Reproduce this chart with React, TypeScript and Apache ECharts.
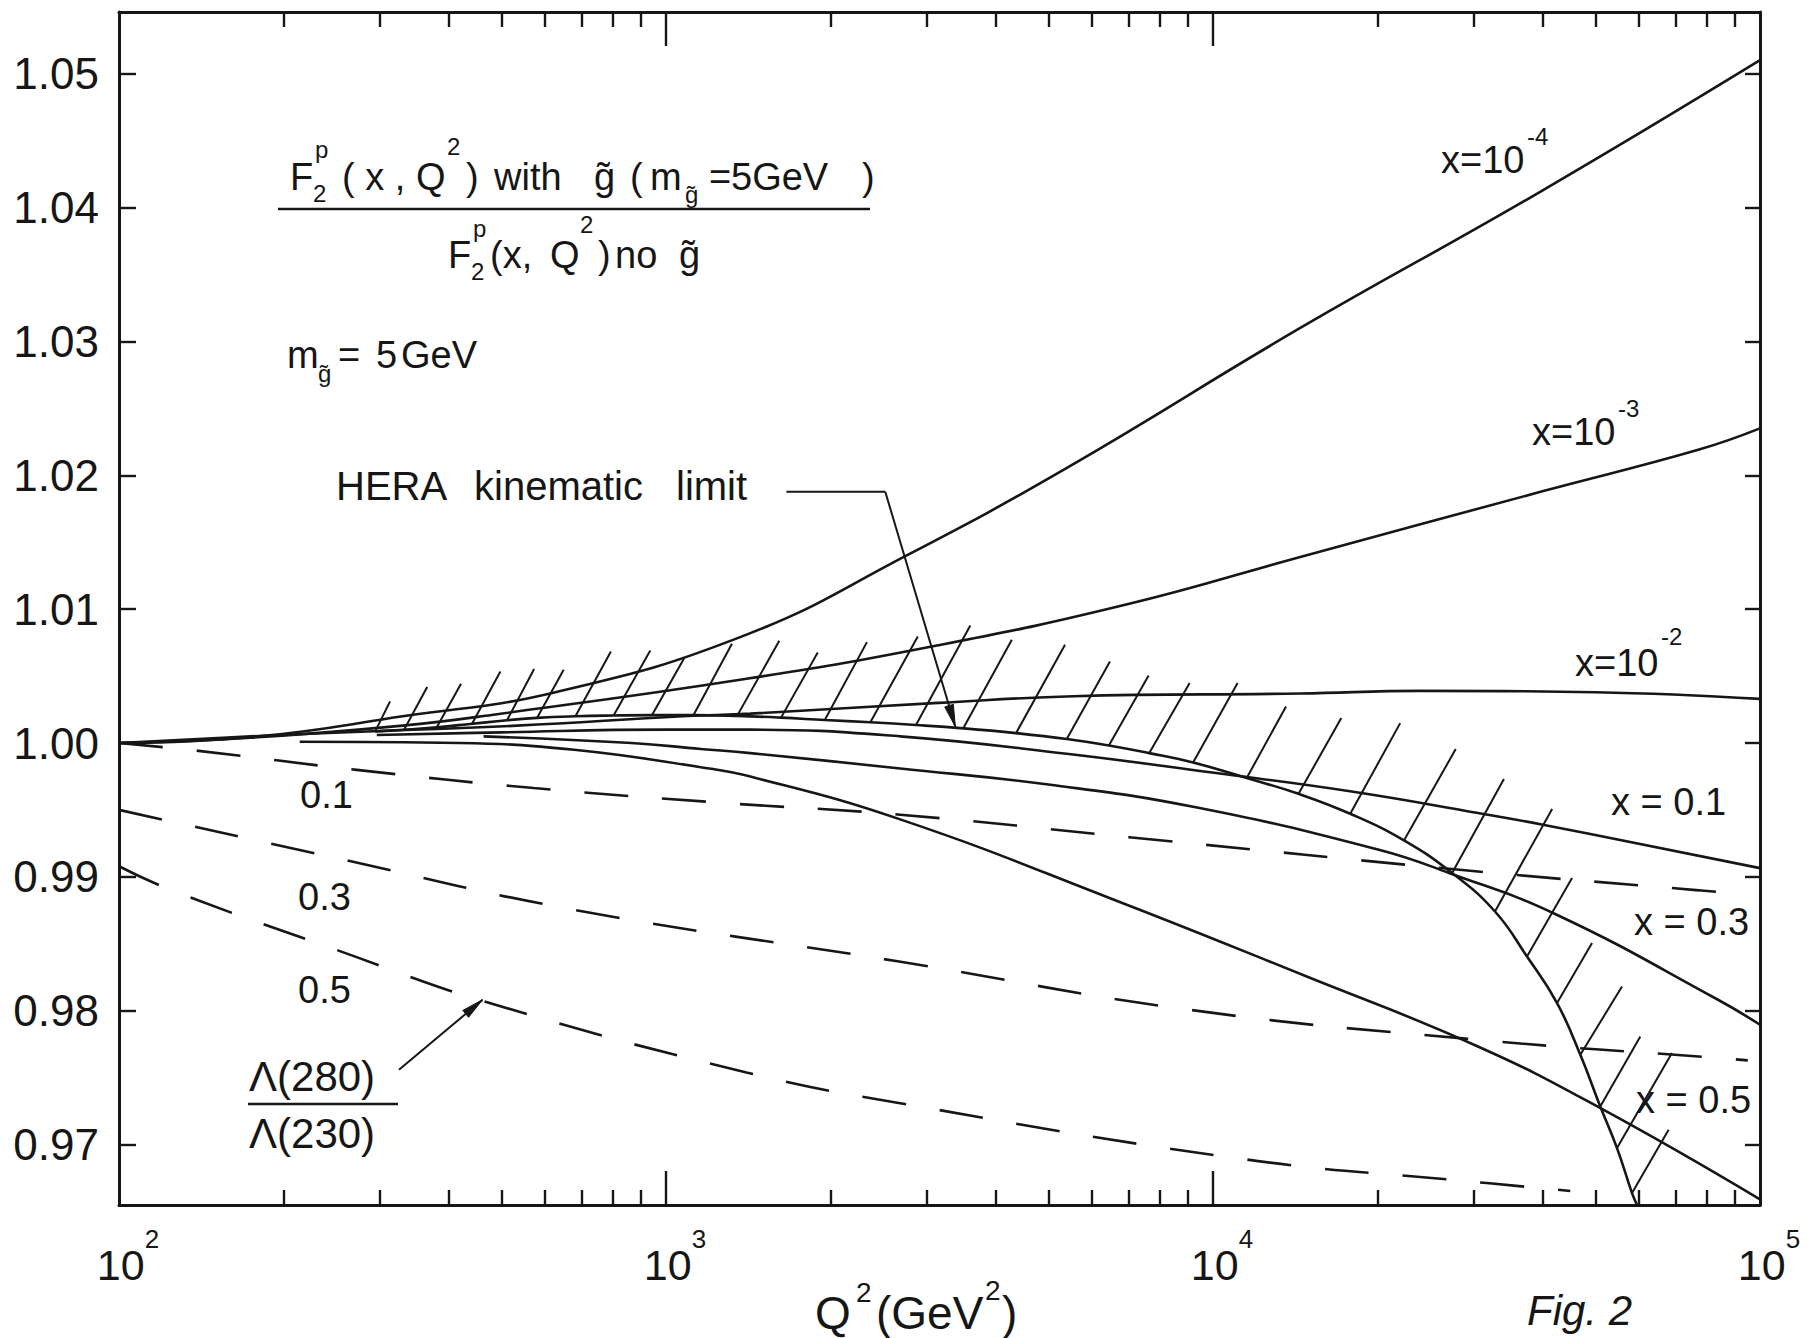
import React, { useEffect, useRef } from 'react';
import * as echarts from 'echarts';

// ---------------- data ----------------
// Q^2 in GeV^2 (log axis), ratio on the value axis
const q2Xm4 = [100, 180, 330, 628, 1404, 2749, 5377, 14440, 39000, 100000];
const fXm4 = [1.0, 1.0005, 1.002, 1.0038, 1.0081, 1.0140, 1.0205, 1.0310, 1.041, 1.051];

const q2Xm3 = [100, 174, 330, 480, 1404, 3145, 7030, 14440, 40000, 77100, 100000];
const fXm3 = [1.0, 1.0004, 1.0013, 1.0021, 1.0048, 1.0073, 1.0104, 1.0139, 1.0188, 1.0219, 1.0235];

const q2Xm2 = [100, 174, 300, 534, 1074, 1426, 3145, 5560, 14440, 24000, 50000, 100000];
const fXm2 = [1.0, 1.0005, 1.0009, 1.0013, 1.002, 1.0022, 1.003, 1.0035, 1.0037, 1.0039, 1.0038, 1.0033];

const q2X01 = [296, 500, 1000, 1426, 2680, 5400, 9960, 17800, 30500, 40100, 100000];
const fX01 = [1.0006, 1.0008, 1.001, 1.001, 1.0005, 0.9992, 0.9978, 0.9964, 0.99478, 0.9939, 0.99066];

const q2X03 = [464, 865, 1157, 1426, 2680, 5000, 9300, 20100, 27000, 42500, 83800, 100000];
const fX03 = [1.0005, 1.0, 0.99956, 0.99925, 0.9981, 0.9969, 0.9952, 0.99203, 0.9903, 0.98718, 0.98083, 0.97896];

const q2X05 = [214, 419, 679, 1157, 1426, 2680, 6590, 14760, 30500, 51000, 100000];
const fX05 = [1.0001, 1.0, 0.9995, 0.9982, 0.9975, 0.9943, 0.9883, 0.9826, 0.97734, 0.97275, 0.96592];

// Lambda(280)/Lambda(230) ratios (dashed)
const q2L01 = [100, 141, 272, 573, 1273, 2680, 7100, 30500, 76400, 85000];
const fL01 = [1.0, 0.9994, 0.998, 0.99664, 0.99553, 0.99465, 0.99295, 0.99041, 0.98902, 0.98886];

const q2L03 = [100, 258, 679, 2650, 9060, 30500, 84700, 95000];
const fL03 = [0.99501, 0.99128, 0.98755, 0.9837, 0.98008, 0.97784, 0.97647, 0.9763];

const q2L05 = [100, 125, 252, 466, 1403, 2680, 11500, 28800, 45000];
const fL05 = [0.9908, 0.989, 0.9845, 0.9807, 0.9754, 0.9731, 0.9689, 0.9673, 0.96655];

// HERA kinematic limit
const limitQ2 = [294, 332, 381, 442, 512, 581, 683, 802, 943, 1123, 1349, 1623, 1951, 2364, 2864, 3495, 4364, 5403, 6451, 7647, 9196, 11524, 14334, 17820, 22340, 27360, 32770, 37500, 42560, 46940, 51050, 54780, 58350, 59600];
const limitV = [1.00087, 1.001, 1.00118, 1.00144, 1.0017, 1.00188, 1.002, 1.00206, 1.00209, 1.00209, 1.00203, 1.0019, 1.00172, 1.00155, 1.00135, 1.0011, 1.00074, 1.0003, 0.99982, 0.99925, 0.99855, 0.99739, 0.99621, 0.99472, 0.99273, 0.99029, 0.98742, 0.98406, 0.98058, 0.97672, 0.97286, 0.96975, 0.96639, 0.9655];

// hatch strokes: each starts on the limit line (same index) and ends here
const hatchTopQ2 = [313, 366, 422, 498, 574, 650, 793, 936, 1080, 1320, 1611, 1894, 2330, 2886, 3600, 4288, 5364, 6480, 7626, 9063, 11090, 13600, 17160, 21990, 27780, 34030, 41690, 45330, 49310, 55940, 60420, 69030, 68070];
const hatchTopV = [1.00311, 1.00418, 1.00443, 1.00535, 1.00553, 1.00547, 1.00684, 1.00692, 1.00635, 1.00742, 1.00764, 1.00677, 1.00754, 1.00796, 1.00878, 1.00771, 1.00734, 1.00609, 1.00505, 1.00448, 1.00448, 1.00273, 1.00187, 1.00149, 0.99955, 0.99731, 0.99507, 0.98992, 0.98506, 0.98182, 0.97809, 0.97685, 0.97112];

// annotation arrows (data coordinates; the last point is the tip)
const heraArrowQ2 = [1660, 2517, 3380];
const heraArrowV = [1.01877, 1.01877, 1.00122];
const lambdaArrowQ2 = [325, 462];
const lambdaArrowV = [0.9756, 0.98083];

// axes
const xMin = 100;
const xMax = 100000;
const yMin = 0.9655;
const yMax = 1.0546;
const xMajorTicks = [1000, 10000];
const xMinorTicks = [200, 300, 400, 500, 600, 700, 800, 900, 2000, 3000, 4000, 5000, 6000, 7000, 8000, 9000, 20000, 30000, 40000, 50000, 60000, 70000, 80000, 90000];
const xLabelValues = [100.0001, 1000, 10000, 99999.99];
const yTickValues = [0.97, 0.98, 0.99, 1.0, 1.01, 1.02, 1.03, 1.04, 1.05];

// ---------------- styling ----------------
const INK = '#161616';
const FAM = '"Liberation Sans", Arial, sans-serif';

const pairs = (q: number[], f: number[]) => q.map((v, i) => [v, f[i]]);

function solid(name: string, q: number[], f: number[]) {
  return {
    type: 'line', name, data: pairs(q, f), symbol: 'none', showSymbol: false,
    smooth: 0.45, silent: true, z: 3,
    lineStyle: { color: INK, width: 2.6 },
  };
}
function dashed(name: string, q: number[], f: number[]) {
  return {
    type: 'line', name, data: pairs(q, f), symbol: 'none', showSymbol: false,
    smooth: 0.45, silent: true, z: 3,
    lineStyle: { color: INK, width: 2.6, type: [44, 34] },
  };
}
function segments(q: number[], v: number[]) {
  const out: number[][] = [];
  for (let i = 0; i < q.length - 1; i++) {
    out.push([q[i], v[i], q[i + 1], v[i + 1], i === q.length - 2 ? 1 : 0]);
  }
  return out;
}

function txt(text: string, x: number, y: number, size: number, italic = false) {
  return {
    type: 'text', x, y, silent: true, z: 100,
    style: {
      text, fill: INK,
      font: `${italic ? 'italic ' : ''}${size}px ${FAM}`,
      align: 'left', verticalAlign: 'middle',
      textAlign: 'left', textVerticalAlign: 'middle',
    },
  };
}
function bar(x1: number, y: number, x2: number) {
  return { type: 'line', silent: true, z: 100, shape: { x1, y1: y, x2, y2: y }, style: { stroke: INK, lineWidth: 2.6 } };
}

const BIG = 38;
const SM = 24;

const graphics = [
  // numerator
  txt('F', 290, 177, BIG), txt('2', 313, 193, SM), txt('p', 315, 149, SM),
  txt('( x , Q', 342, 177, BIG), txt('2', 447, 146, SM),
  txt(')', 466, 177, BIG), txt('with', 494, 177, BIG), txt('g\u0303', 594, 177, BIG),
  txt('(', 630, 177, BIG), txt('m', 650, 177, BIG), txt('g\u0303', 685, 194, SM),
  txt('=', 709, 177, BIG), txt('5GeV', 731, 177, BIG), txt(')', 862, 177, BIG),
  bar(278, 209, 870),
  // denominator
  txt('F', 448, 255, BIG), txt('2', 471, 271, SM), txt('p', 473, 228, SM),
  txt('(x,', 490, 255, BIG), txt('Q', 550, 255, BIG), txt('2', 580, 224, SM),
  txt(')', 598, 255, BIG), txt('no', 615, 255, BIG), txt('g\u0303', 679, 255, BIG),
  // m_g = 5 GeV
  txt('m', 287, 355, BIG), txt('g\u0303', 318, 373, SM), txt('=', 338, 355, BIG),
  txt('5', 376, 355, BIG), txt('GeV', 401, 355, BIG),
  // HERA label
  txt('HERA', 336, 486, 40), txt('kinematic', 474, 486, 40), txt('limit', 676, 486, 40),
  // curve labels
  txt('x=10', 1441, 160, BIG), txt('-4', 1527, 136, SM),
  txt('x=10', 1532, 432, BIG), txt('-3', 1618, 408, SM),
  txt('x=10', 1575, 663, BIG), txt('-2', 1661, 636, SM),
  txt('x = 0.1', 1611, 802, BIG),
  txt('x = 0.3', 1634, 922, BIG),
  txt('x = 0.5', 1636, 1100, BIG),
  txt('0.1', 300, 795, BIG), txt('0.3', 298, 897, BIG), txt('0.5', 298, 990, BIG),
  // Lambda ratio
  txt('\u039B(280)', 249, 1076, 42), bar(248, 1104, 398), txt('\u039B(230)', 249, 1133, 42),
  // axis title and figure tag
  txt('Q', 815, 1313, 46), txt('2', 856, 1292, 28), txt('(GeV', 876, 1313, 46),
  txt('2', 985, 1290, 28), txt(')', 1002, 1313, 46),
  txt('Fig. 2', 1527, 1310, 42, true),
];

const axisLineStyle = { color: INK, width: 3 };
const tickLineStyle = { color: INK, width: 2.4 };

const xBase = {
  type: 'log', logBase: 10, min: xMin, max: xMax, splitLine: { show: false },
  minorTick: { show: false }, axisPointer: { show: false },
};
const yBase = {
  type: 'value', min: yMin, max: yMax, splitLine: { show: false }, axisPointer: { show: false },
};

export default function App() {
  const ref = useRef<HTMLDivElement>(null);
  useEffect(() => {
    if (!ref.current) return;
    const chart = echarts.init(ref.current, undefined, { renderer: 'svg' });
    const option: any = {
      animation: false,
      backgroundColor: '#ffffff',
      grid: { left: 119, right: 47, top: 12, bottom: 133, containLabel: false, outerBoundsMode: 'none' },
      xAxis: [
        {
          ...xBase, position: 'bottom',
          axisLine: { show: true, lineStyle: axisLineStyle },
          axisTick: { show: true, inside: true, length: 34, customValues: xMajorTicks, lineStyle: tickLineStyle },
          axisLabel: {
            show: true, customValues: xLabelValues, margin: 21, padding: [0, 0, 0, 18],
            formatter: (v: number) => `{b|10}{s|${Math.round(Math.log10(v))}}`,
            rich: {
              b: { fontSize: 43, lineHeight: 60, fontFamily: FAM, color: INK, verticalAlign: 'bottom' },
              s: { fontSize: 26, lineHeight: 26, fontFamily: FAM, color: INK, verticalAlign: 'top' },
            },
          },
        },
        {
          ...xBase, position: 'bottom',
          axisLine: { show: false },
          axisTick: { show: true, inside: true, length: 15, customValues: xMinorTicks, lineStyle: tickLineStyle },
          axisLabel: { show: false },
        },
        {
          ...xBase, position: 'top',
          axisLine: { show: true, lineStyle: axisLineStyle },
          axisTick: { show: true, inside: true, length: 34, customValues: xMajorTicks, lineStyle: tickLineStyle },
          axisLabel: { show: false },
        },
        {
          ...xBase, position: 'top',
          axisLine: { show: false },
          axisTick: { show: true, inside: true, length: 15, customValues: xMinorTicks, lineStyle: tickLineStyle },
          axisLabel: { show: false },
        },
      ],
      yAxis: [
        {
          ...yBase, position: 'left',
          axisLine: { show: true, lineStyle: axisLineStyle },
          axisTick: { show: true, inside: true, length: 17, customValues: yTickValues, lineStyle: tickLineStyle },
          axisLabel: {
            show: true, customValues: yTickValues, margin: 20,
            fontSize: 44, fontFamily: FAM, color: INK,
            formatter: (v: number) => v.toFixed(2),
          },
        },
        {
          ...yBase, position: 'right',
          axisLine: { show: true, lineStyle: axisLineStyle },
          axisTick: { show: true, inside: true, length: 15, customValues: yTickValues, lineStyle: tickLineStyle },
          axisLabel: { show: false },
        },
      ],
      series: [
        solid('x=1e-4', q2Xm4, fXm4),
        solid('x=1e-3', q2Xm3, fXm3),
        solid('x=1e-2', q2Xm2, fXm2),
        solid('x=0.1', q2X01, fX01),
        solid('x=0.3', q2X03, fX03),
        solid('x=0.5', q2X05, fX05),
        dashed('ratio 0.1', q2L01, fL01),
        dashed('ratio 0.3', q2L03, fL03),
        dashed('ratio 0.5', q2L05, fL05),
        solid('HERA kinematic limit', limitQ2, limitV),
        {
          type: 'custom', name: 'hatching', silent: true, z: 3,
          data: hatchTopQ2.map((q, i) => [limitQ2[i], limitV[i], q, hatchTopV[i]]),
          encode: { x: [0, 2], y: [1, 3] },
          renderItem: (_params: any, api: any) => {
            const p1 = api.coord([api.value(0), api.value(1)]);
            const p2 = api.coord([api.value(2), api.value(3)]);
            return {
              type: 'line',
              shape: { x1: p1[0], y1: p1[1], x2: p2[0], y2: p2[1] },
              style: { stroke: INK, lineWidth: 2 },
            };
          },
        },
        {
          type: 'custom', name: 'arrows', silent: true, z: 4, clip: false,
          data: [...segments(heraArrowQ2, heraArrowV), ...segments(lambdaArrowQ2, lambdaArrowV)],
          encode: { x: [0, 2], y: [1, 3] },
          renderItem: (_params: any, api: any) => {
            const p1 = api.coord([api.value(0), api.value(1)]);
            const p2 = api.coord([api.value(2), api.value(3)]);
            const children: any[] = [{
              type: 'line',
              shape: { x1: p1[0], y1: p1[1], x2: p2[0], y2: p2[1] },
              style: { stroke: INK, lineWidth: 2 },
            }];
            if (api.value(4)) {
              const dx = p2[0] - p1[0];
              const dy = p2[1] - p1[1];
              const len = Math.hypot(dx, dy) || 1;
              const ux = dx / len;
              const uy = dy / len;
              const L = 22;
              const hw = 4.5;
              const bx = p2[0] - ux * L;
              const by = p2[1] - uy * L;
              children.push({
                type: 'polygon',
                shape: { points: [[p2[0], p2[1]], [bx - uy * hw, by + ux * hw], [bx + uy * hw, by - ux * hw]] },
                style: { fill: INK, stroke: INK, lineWidth: 1 },
              });
            }
            return { type: 'group', children };
          },
        },
      ],
      graphic: { elements: graphics },
    };
    chart.setOption(option);
    return () => chart.dispose();
  }, []);
  return (
    <div
      ref={ref}
      style={{ position: 'absolute', left: 0, top: 0, width: 1807, height: 1338, background: '#fff' }}
    />
  );
}
